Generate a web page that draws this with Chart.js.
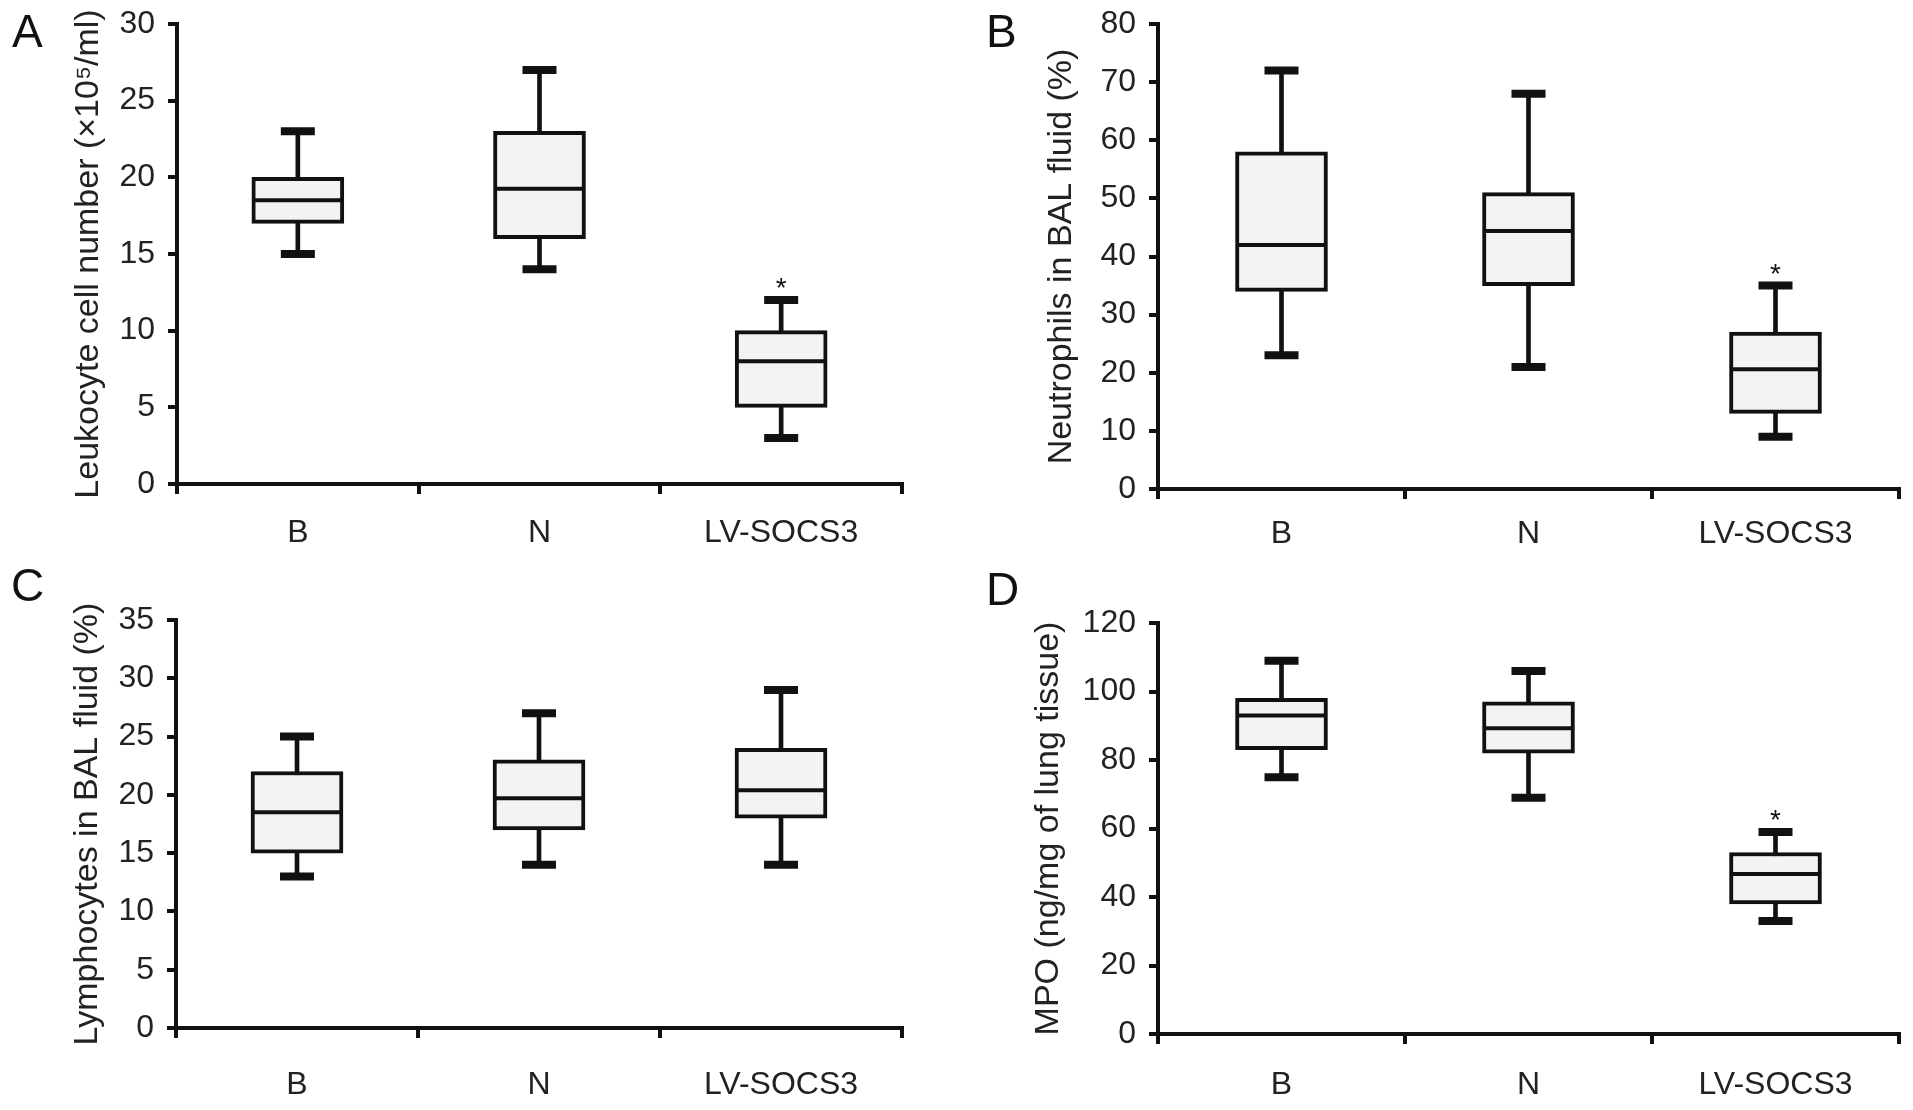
<!DOCTYPE html>
<html>
<head>
<meta charset="utf-8">
<script src="https://cdn.jsdelivr.net/npm/chart.js@4.4.0/dist/chart.umd.min.js"></script>
<style>
  html, body { margin: 0; padding: 0; background: #fff; }
  body { width: 1913px; height: 1110px; position: relative; overflow: hidden; font-family: 'Liberation Sans', Arial, sans-serif; }
  .panel { position: absolute; }
  .letter { position: absolute; font-size: 46px; line-height: 1; color: #111; }
</style>
</head>
<body>
<div class="panel" style="left:0;top:0;width:930px;height:560px"><canvas id="chartA"></canvas></div>
<div class="panel" style="left:960px;top:0;width:953px;height:560px"><canvas id="chartB"></canvas></div>
<div class="panel" style="left:0;top:560px;width:930px;height:550px"><canvas id="chartC"></canvas></div>
<div class="panel" style="left:960px;top:560px;width:953px;height:550px"><canvas id="chartD"></canvas></div>
<div class="letter" style="left:12px;top:8px">A</div>
<div class="letter" style="left:986px;top:8px">B</div>
<div class="letter" style="left:11px;top:562px">C</div>
<div class="letter" style="left:986px;top:566px">D</div>
<script>
const categories = ['B', 'N', 'LV-SOCS3'];

// A - leukocyte count
const leukMin = [15, 14, 3];
const leukQ1 = [17, 16, 5];
const leukMed = [18.5, 19.25, 8];
const leukQ3 = [20, 23, 10];
const leukMax = [23, 27, 12];
const leukStars = ['', '', '*'];

// B - neutrophils
const neutMin = [23, 21, 9];
const neutQ1 = [34, 35, 13];
const neutMed = [42, 44.4, 20.6];
const neutQ3 = [58, 51, 27];
const neutMax = [72, 68, 35];
const neutStars = ['', '', '*'];

// C - lymphocytes
const lymphMin = [13, 14, 14];
const lymphQ1 = [15, 17, 18];
const lymphMed = [18.5, 19.7, 20.4];
const lymphQ3 = [22, 23, 24];
const lymphMax = [25, 27, 29];
const lymphStars = ['', '', ''];

// D - MPO
const mpoMin = [75, 69, 33];
const mpoQ1 = [83, 82, 38];
const mpoMed = [93, 89.3, 46.7];
const mpoQ3 = [98, 97, 53];
const mpoMax = [109, 106, 59];
const mpoStars = ['', '', '*'];

const FONT = "'Liberation Sans', Arial, sans-serif";
const INK = '#111';

const starPlugin = {
    id: 'stars',
    afterDatasetsDraw(chart, args, opts) {
        const {ctx, scales: {x, y}} = chart;
        ctx.save();
        ctx.font = '28px ' + FONT;
        ctx.fillStyle = INK;
        ctx.textAlign = 'center';
        ctx.textBaseline = 'alphabetic';
        opts.marks.forEach((m, i) => {
            if (!m) return;
            ctx.fillText(m, x.getPixelForValue(i), y.getPixelForValue(opts.tops[i]) - 3);
        });
        ctx.restore();
    }
};

const boxPlot = (id, d, geo) => {
    try {
        var ctx = document.getElementById(id);
        if (ctx) {
            var myChart = new Chart(ctx, {
                type: 'bar',
                data: {
                    labels: categories,
                    datasets: [
                        {
                            // median line
                            type: 'line',
                            data: d.med,
                            showLine: false,
                            pointStyle: 'line',
                            pointRadius: 44,
                            pointBorderWidth: 4,
                            pointBorderColor: INK,
                            order: 1
                        },
                        {
                            // upper caps
                            type: 'line',
                            data: d.max,
                            showLine: false,
                            pointStyle: 'line',
                            pointRadius: 17,
                            pointBorderWidth: 8,
                            pointBorderColor: INK,
                            order: 1
                        },
                        {
                            // lower caps
                            type: 'line',
                            data: d.min,
                            showLine: false,
                            pointStyle: 'line',
                            pointRadius: 17,
                            pointBorderWidth: 8,
                            pointBorderColor: INK,
                            order: 1
                        },
                        {
                            // box q1..q3
                            data: d.q1.map((v, i) => [v, d.q3[i]]),
                            backgroundColor: '#f3f3f3',
                            borderColor: INK,
                            borderWidth: 4,
                            borderSkipped: false,
                            barThickness: 92,
                            grouped: false,
                            order: 2
                        },
                        {
                            // whisker min..max
                            data: d.min.map((v, i) => [v, d.max[i]]),
                            backgroundColor: INK,
                            borderWidth: 0,
                            barThickness: 4,
                            grouped: false,
                            order: 3
                        }
                    ]
                },
                options: {
                    responsive: true,
                    maintainAspectRatio: false,
                    animation: false,
                    events: [],
                    layout: {
                        autoPadding: false,
                        padding: { top: geo.top, right: geo.right, left: 0, bottom: 0 }
                    },
                    plugins: {
                        legend: { display: false },
                        tooltip: { enabled: false },
                        stars: { marks: d.stars, tops: d.max }
                    },
                    scales: {
                        x: {
                            offset: true,
                            grid: {
                                offset: true,
                                drawOnChartArea: false,
                                tickLength: 10,
                                lineWidth: 4,
                                color: INK
                            },
                            border: { color: INK, width: 4 },
                            ticks: {
                                color: '#222',
                                padding: geo.labelPad,
                                font: { size: 32, family: FONT }
                            },
                            afterFit: s => {
                                s.height = geo.xHeight;
                                s.paddingLeft = 0;
                                s.paddingRight = 0;
                            }
                        },
                        y: {
                            min: 0,
                            max: d.yMax,
                            grid: {
                                drawOnChartArea: false,
                                tickLength: 9,
                                lineWidth: 4,
                                color: INK
                            },
                            border: { color: INK, width: 4 },
                            ticks: {
                                stepSize: d.step,
                                color: '#222',
                                padding: 13,
                                font: { size: 32, family: FONT }
                            },
                            title: {
                                display: true,
                                text: d.title,
                                color: '#222',
                                font: { size: 34, family: FONT },
                                padding: { top: geo.titlePad, bottom: 0 }
                            },
                            afterFit: s => {
                                s.width = geo.yWidth;
                                s.paddingTop = 0;
                                s.paddingBottom = 0;
                            }
                        }
                    }
                },
                plugins: [starPlugin]
            });
        }
    } catch (error) {
        console.log(error);
    }
};

boxPlot('chartA', {
    min: leukMin, q1: leukQ1, med: leukMed, q3: leukQ3, max: leukMax, stars: leukStars,
    yMax: 30, step: 5, title: 'Leukocyte cell number (×10⁵/ml)'
}, { top: 24, right: 28, xHeight: 76, yWidth: 177, titlePad: 68, labelPad: 20 });

boxPlot('chartB', {
    min: neutMin, q1: neutQ1, med: neutMed, q3: neutQ3, max: neutMax, stars: neutStars,
    yMax: 80, step: 10, title: 'Neutrophils in BAL fluid (%)'
}, { top: 24, right: 14, xHeight: 71, yWidth: 198, titlePad: 81, labelPad: 16 });

boxPlot('chartC', {
    min: lymphMin, q1: lymphQ1, med: lymphMed, q3: lymphQ3, max: lymphMax, stars: lymphStars,
    yMax: 35, step: 5, title: 'Lymphocytes in BAL fluid (%)'
}, { top: 60, right: 28, xHeight: 82, yWidth: 176, titlePad: 67, labelPad: 28 });

boxPlot('chartD', {
    min: mpoMin, q1: mpoQ1, med: mpoMed, q3: mpoQ3, max: mpoMax, stars: mpoStars,
    yMax: 120, step: 20, title: 'MPO (ng/mg of lung tissue)'
}, { top: 63, right: 14, xHeight: 76, yWidth: 198, titlePad: 68, labelPad: 22 });
</script>
</body>
</html>
